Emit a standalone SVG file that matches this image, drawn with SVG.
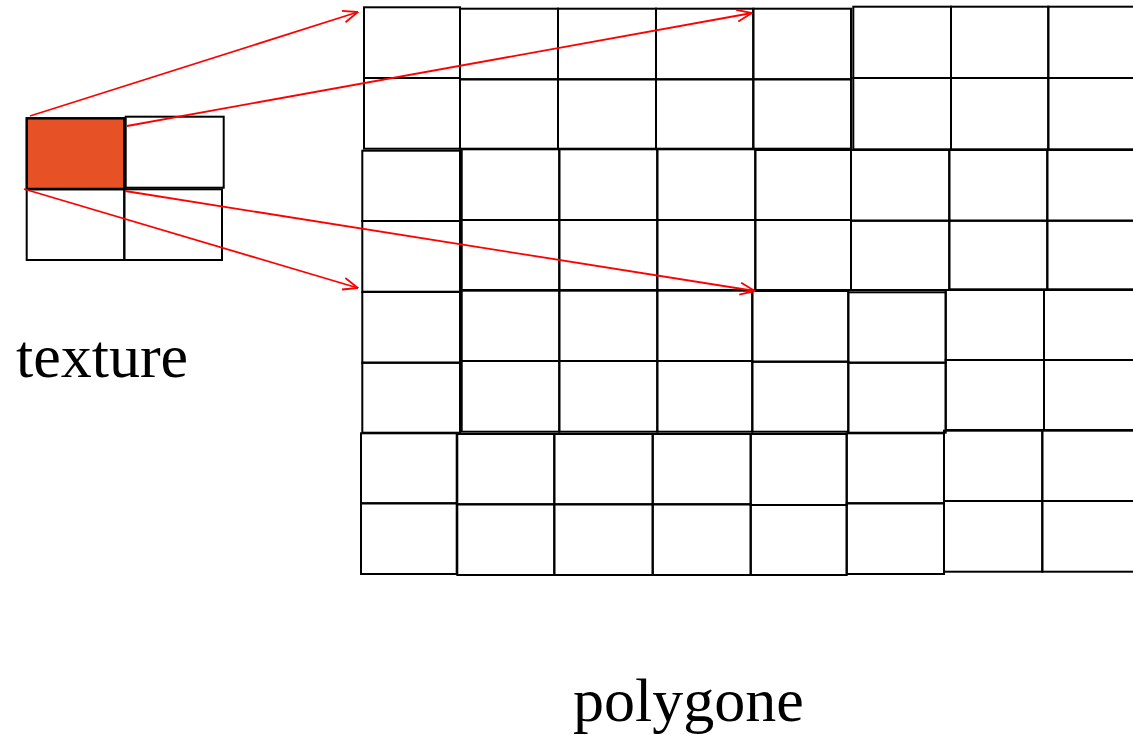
<svg xmlns="http://www.w3.org/2000/svg" width="1133" height="735" viewBox="0 0 1133 735">
  <style>
    .c { fill: none; stroke: #000; stroke-width: 2; }
    .o { fill: #E65125; stroke: #000; stroke-width: 2.5; }
    .a { fill: none; stroke: #FF0000; stroke-width: 1.8; }
    .t { font-family: "Liberation Serif", "Times New Roman", serif; font-size: 62px; fill: #000; }
  </style>
  <defs>
    <marker id="arr" viewBox="0 0 16 14" refX="15.5" refY="7" markerWidth="16" markerHeight="14" markerUnits="userSpaceOnUse" orient="auto">
      <path d="M0.5,1 L15.5,7 L0.5,13" fill="none" stroke="#FF0000" stroke-width="1.8"/>
    </marker>
  </defs>
  <rect width="1133" height="735" fill="#fff"/>

  <g id="texture">
    <rect class="o" x="26.7" y="118.3" width="97.6" height="70.7"/>
    <rect class="c" x="125.7" y="116.7" width="98" height="71"/>
    <rect class="c" x="26.7" y="189.3" width="97.6" height="70.7"/>
    <rect class="c" x="124.3" y="189.3" width="97.7" height="70.7"/>
  </g>

  <g id="polygone">
    <g id="rowA">
      <rect class="c" x="364" y="7.3" width="96" height="70.7"/>
      <rect class="c" x="364" y="78" width="96" height="70.7"/>
      <rect class="c" x="460" y="8.7" width="98" height="70.6"/>
      <rect class="c" x="558" y="8.7" width="98" height="70.6"/>
      <rect class="c" x="656" y="8.7" width="97.3" height="70.6"/>
      <rect class="c" x="753.3" y="8.7" width="97.7" height="70.6"/>
      <rect class="c" x="460" y="79.3" width="98" height="69.4"/>
      <rect class="c" x="558" y="79.3" width="98" height="69.4"/>
      <rect class="c" x="656" y="79.3" width="97.3" height="69.4"/>
      <rect class="c" x="753.3" y="79.3" width="97.7" height="69.4"/>
      <rect class="c" x="853.3" y="6.7" width="97.7" height="71.3"/>
      <rect class="c" x="951" y="6.7" width="97.3" height="71.3"/>
      <rect class="c" x="1048.3" y="6.7" width="97.7" height="71.3"/>
      <rect class="c" x="853.3" y="78" width="97.7" height="71.3"/>
      <rect class="c" x="951" y="78" width="97.3" height="71.3"/>
      <rect class="c" x="1048.3" y="78" width="97.7" height="71.3"/>
    </g>
    <g id="rowB">
      <rect class="c" x="362.3" y="150.7" width="97.7" height="70.3"/>
      <rect class="c" x="362.3" y="221" width="97.7" height="70.7"/>
      <rect class="c" x="461.7" y="149.3" width="97.6" height="70.7"/>
      <rect class="c" x="559.3" y="149.3" width="98" height="70.7"/>
      <rect class="c" x="657.3" y="149.3" width="98" height="70.7"/>
      <rect class="c" x="461.7" y="220" width="97.6" height="70"/>
      <rect class="c" x="559.3" y="220" width="98" height="70"/>
      <rect class="c" x="657.3" y="220" width="98" height="70"/>
      <rect class="c" x="755.3" y="150" width="95.7" height="70"/>
      <rect class="c" x="755.3" y="220" width="95.7" height="70"/>
      <rect class="c" x="851" y="150" width="98.3" height="70.7"/>
      <rect class="c" x="851" y="220.7" width="98.3" height="69.3"/>
      <rect class="c" x="949.3" y="150" width="98" height="70.7"/>
      <rect class="c" x="1047.3" y="150" width="98" height="70.7"/>
      <rect class="c" x="949.3" y="220.7" width="98" height="68.6"/>
      <rect class="c" x="1047.3" y="220.7" width="98" height="68.6"/>
    </g>
    <g id="rowC">
      <rect class="c" x="362.3" y="292" width="97.7" height="70.7"/>
      <rect class="c" x="362.3" y="362.7" width="97.7" height="70"/>
      <rect class="c" x="461.7" y="290.7" width="97.6" height="70.3"/>
      <rect class="c" x="559.3" y="290.7" width="98" height="70.3"/>
      <rect class="c" x="657.3" y="290.7" width="95" height="70.3"/>
      <rect class="c" x="461.7" y="361" width="97.6" height="70.7"/>
      <rect class="c" x="559.3" y="361" width="98" height="70.7"/>
      <rect class="c" x="657.3" y="361" width="95" height="70.7"/>
      <rect class="c" x="752.3" y="291" width="96" height="70.7"/>
      <rect class="c" x="752.3" y="361.7" width="96" height="70"/>
      <rect class="c" x="848.3" y="292.3" width="97.4" height="70.4"/>
      <rect class="c" x="848.3" y="362.7" width="97.4" height="70"/>
      <rect class="c" x="945.7" y="290" width="98.3" height="70"/>
      <rect class="c" x="1044" y="290" width="98" height="70"/>
      <rect class="c" x="945.7" y="360" width="98.3" height="70"/>
      <rect class="c" x="1044" y="360" width="98" height="70"/>
    </g>
    <g id="rowD">
      <rect class="c" x="361" y="433.3" width="95.7" height="70"/>
      <rect class="c" x="361" y="503.3" width="95.7" height="70.7"/>
      <rect class="c" x="457.3" y="434" width="97" height="70.3"/>
      <rect class="c" x="554.3" y="434" width="98.4" height="70.3"/>
      <rect class="c" x="652.7" y="434" width="98" height="70.3"/>
      <rect class="c" x="457.3" y="504.3" width="97" height="70.7"/>
      <rect class="c" x="554.3" y="504.3" width="98.4" height="70.7"/>
      <rect class="c" x="652.7" y="504.3" width="98" height="70.7"/>
      <rect class="c" x="750.7" y="434" width="96" height="71"/>
      <rect class="c" x="750.7" y="505" width="96" height="70"/>
      <rect class="c" x="846.7" y="433.3" width="97.3" height="70"/>
      <rect class="c" x="846.7" y="503.3" width="97.3" height="70.7"/>
      <rect class="c" x="944" y="430.7" width="98.3" height="70.3"/>
      <rect class="c" x="1042.3" y="430.7" width="98" height="70.3"/>
      <rect class="c" x="944" y="501" width="98.3" height="70.7"/>
      <rect class="c" x="1042.3" y="501" width="98" height="70.7"/>
    </g>
  </g>

  <g id="connectors">
    <line class="a" x1="30" y1="116" x2="358" y2="12" marker-end="url(#arr)"/>
    <line class="a" x1="127" y1="126" x2="752" y2="13" marker-end="url(#arr)"/>
    <line class="a" x1="24" y1="189" x2="358" y2="288" marker-end="url(#arr)"/>
    <line class="a" x1="125" y1="191" x2="755" y2="291" marker-end="url(#arr)"/>
  </g>

  <g id="labels">
    <text class="t" x="16" y="377">texture</text>
    <text class="t" x="573" y="721">polygone</text>
  </g>
</svg>
